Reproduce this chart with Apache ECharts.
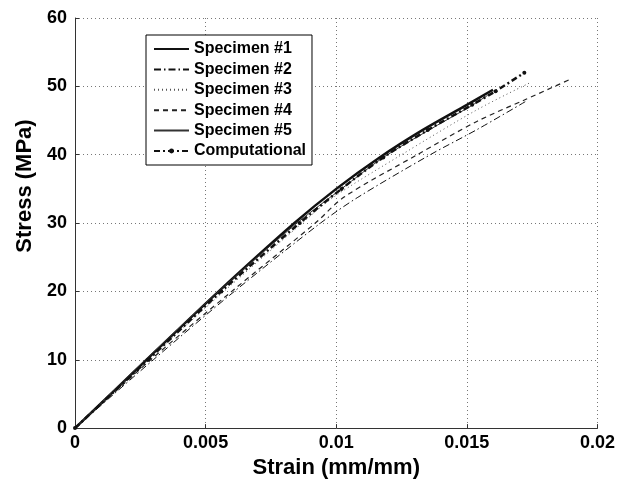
<!DOCTYPE html>
<html>
<head>
<meta charset="utf-8">
<script src="https://cdn.jsdelivr.net/npm/echarts@6/dist/echarts.min.js"></script>
<style>
  html, body { margin: 0; padding: 0; background: #fff; }
  #chart { width: 618px; height: 484px; }
</style>
</head>
<body>
<div id="chart"></div>
<script>
// 各试件的应变/应力数据
var seriesNames = ['Specimen #1', 'Specimen #2', 'Specimen #3', 'Specimen #4', 'Specimen #5', 'Computational'];

var strain1 = [0, 0.00274, 0.0055, 0.0084, 0.0100, 0.01166, 0.0133, 0.0150, 0.0160];
var stress1 = [0, 10, 20, 30, 35, 39.6, 43.6, 47.3, 49.5];

var strain2 = [0, 0.0030, 0.0061, 0.0094, 0.0108, 0.0136, 0.0154, 0.0173];
var stress2 = [0, 10, 20, 30, 33.7, 40, 43.7, 47.9];

var strain3 = [0, 0.0028, 0.0057, 0.0087, 0.0099, 0.0125, 0.0154, 0.0174];
var stress3 = [0, 10, 20, 30, 33.8, 40, 46.6, 50.5];

var strain4 = [0, 0.0029, 0.0060, 0.0092, 0.0103, 0.0131, 0.0154, 0.0172, 0.0190];
var stress4 = [0, 10, 20, 30, 33.8, 40, 44.9, 48.0, 51.1];

var strain5 = [0, 0.0027, 0.0055, 0.0085, 0.0102, 0.0118, 0.0135, 0.0151, 0.0158];
var stress5 = [0, 10, 20, 30, 35, 39.6, 43.5, 47, 48.7];

var strainC = [0, 0.0028, 0.0056, 0.0086, 0.0102, 0.0118, 0.0135, 0.0152, 0.0161, 0.0172];
var stressC = [0, 10, 20, 30, 35, 39.6, 43.6, 47.3, 49.3, 52];

var xTicks = [0, 0.005, 0.01, 0.015, 0.02];
var yTicks = [0, 10, 20, 30, 40, 50, 60];

var fontName = '"Liberation Sans", Arial, sans-serif';

function pairs(xs, ys) {
    var out = [];
    for (var i = 0; i < xs.length; i++) {
        out.push([xs[i], ys[i]]);
    }
    return out;
}

function lineSeries(name, xs, ys, style, extra) {
    var s = {
        name: name,
        type: 'line',
        data: pairs(xs, ys),
        smooth: 0.3,
        symbol: 'none',
        showSymbol: false,
        lineStyle: style,
        itemStyle: { color: style.color },
        animation: false
    };
    for (var k in extra) s[k] = extra[k];
    return s;
}

// 图例: 只有 Computational 显示圆点
var legendData = seriesNames.map(function (n) {
    if (n === 'Computational') return { name: n };
    return { name: n, itemStyle: { opacity: 0 } };
});

var myChart = echarts.init(document.getElementById('chart'));

var option = {
    backgroundColor: '#fff',
    animation: false,
    grid: {
        left: 75,
        right: 19,
        top: 18,
        bottom: 53
    },
    legend: {
        orient: 'vertical',
        left: 146,
        top: 35,
        padding: [6, 6, 6, 7],
        itemWidth: 35,
        itemHeight: 6,
        itemGap: 4.4,
        backgroundColor: '#fff',
        borderColor: '#000',
        borderWidth: 1,
        borderRadius: 0,
        textStyle: {
            color: '#000',
            fontWeight: 'bold',
            fontSize: 16,
            lineHeight: 16,
            fontFamily: fontName
        },
        data: legendData
    },
    xAxis: {
        type: 'value',
        min: xTicks[0],
        max: xTicks[xTicks.length - 1],
        interval: 0.005,
        name: 'Strain (mm/mm)',
        nameLocation: 'middle',
        nameGap: 28,
        nameTextStyle: {
            color: '#000',
            fontWeight: 'bold',
            fontSize: 22,
            fontFamily: fontName
        },
        axisLine: { show: true, lineStyle: { color: '#333', width: 1 } },
        axisTick: { show: true, inside: true, length: 4, lineStyle: { color: '#333' } },
        axisLabel: {
            color: '#000',
            fontWeight: 'bold',
            fontSize: 18,
            fontFamily: fontName,
            margin: 6,
            formatter: function (v) { return String(+v.toFixed(3)); }
        },
        splitLine: { show: true, lineStyle: { color: '#777', type: [1, 3], width: 1 } }
    },
    yAxis: {
        type: 'value',
        min: yTicks[0],
        max: yTicks[yTicks.length - 1],
        interval: 10,
        axisLine: { show: true, lineStyle: { color: '#333', width: 1 } },
        axisTick: { show: true, inside: true, length: 4, lineStyle: { color: '#333' } },
        axisLabel: {
            color: '#000',
            fontWeight: 'bold',
            fontSize: 18,
            fontFamily: fontName,
            margin: 8
        },
        splitLine: { show: true, lineStyle: { color: '#777', type: [1, 3], width: 1 } }
    },
    graphic: [{
        type: 'text',
        x: 25,
        y: 186,
        rotation: Math.PI / 2,
        style: {
            text: 'Stress (MPa)',
            fill: '#000',
            font: 'bold 22px ' + fontName,
            align: 'center',
            verticalAlign: 'middle'
        }
    }],
    series: [
        lineSeries(seriesNames[0], strain1, stress1, { color: '#111', width: 2.5, type: 'solid' }),
        lineSeries(seriesNames[1], strain2, stress2, { color: '#111', width: 1, type: [7, 3, 1.5, 3] }),
        lineSeries(seriesNames[2], strain3, stress3, { color: '#555', width: 1, type: [1, 3] }),
        lineSeries(seriesNames[3], strain4, stress4, { color: '#222', width: 1.2, type: [5, 4] }),
        lineSeries(seriesNames[4], strain5, stress5, { color: '#333', width: 1, type: 'solid' }),
        lineSeries(seriesNames[5], strainC, stressC, { color: '#111', width: 2.5, type: [6, 3, 2, 3] },
            { symbol: 'circle', symbolSize: 4, showSymbol: true })
    ]
};

myChart.setOption(option);
</script>
</body>
</html>
